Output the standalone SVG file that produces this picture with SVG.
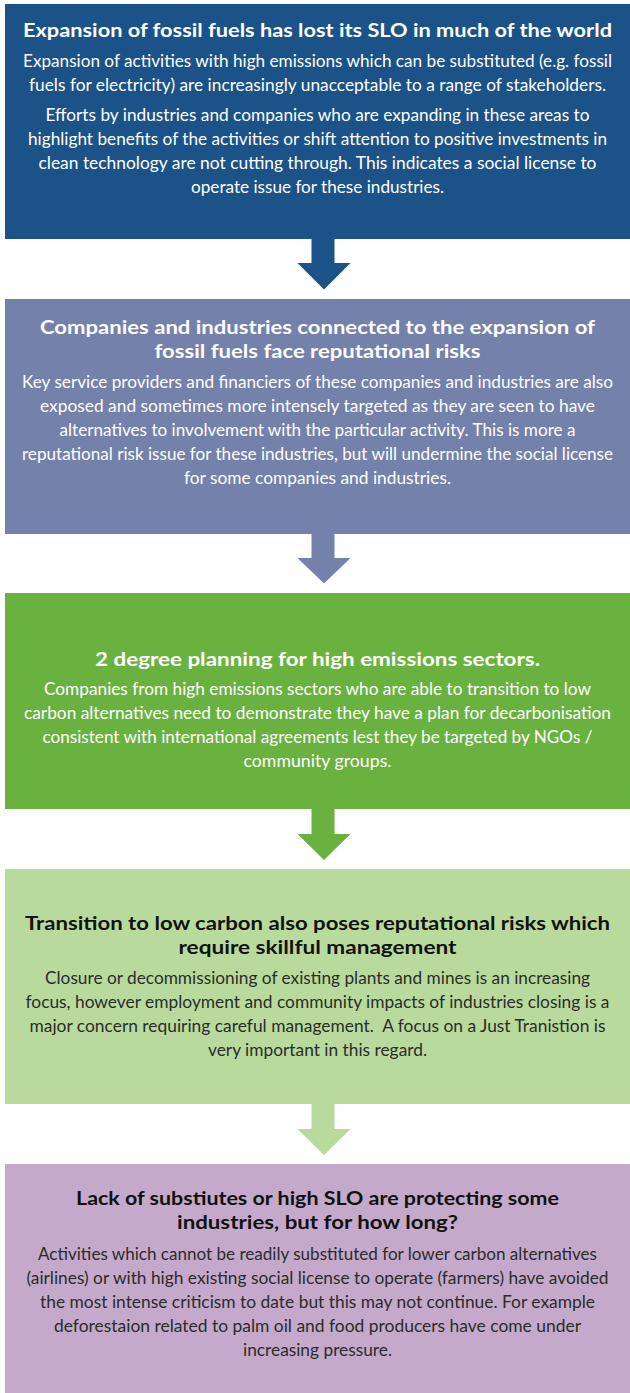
<svg xmlns="http://www.w3.org/2000/svg" width="630" height="1393" viewBox="0 0 630 1393">
<style>
.t{font-family:"Lato","Open Sans",sans-serif;font-weight:700;font-size:18px;text-anchor:middle}
.b{font-family:"Liberation Sans Narrow","Lato","Liberation Sans",sans-serif;font-size:17px;text-anchor:middle}
.w{fill:#ffffff}
.k{fill:#111111}
.g{fill:#2b2b2b}
</style>
<rect width="630" height="1393" fill="#ffffff"/>
<g id="connectors">
<polygon fill="#1b5287" points="311.5,238 334.5,238 334.5,263 350.5,263 324,289.5 297.5,263 311.5,263"/>
<polygon fill="#7381ab" points="311.5,533 334.5,533 334.5,558 350.5,558 324,583.5 297.5,558 311.5,558"/>
<polygon fill="#6ab23f" points="311.5,808 334.5,808 334.5,834 350.5,834 324,860 297.5,834 311.5,834"/>
<polygon fill="#b8db9d" points="311.5,1103 334.5,1103 334.5,1129 350.5,1129 324,1155 297.5,1129 311.5,1129"/>
</g>
<g id="node1">
<rect x="5" y="4" width="625" height="235" fill="#1b5287"/>
<text class="t w" x="317.5" y="37" textLength="589" lengthAdjust="spacingAndGlyphs">Expansion of fossil fuels has lost its SLO in much of the world</text>
<text class="b w" x="317.5" y="67" textLength="589" lengthAdjust="spacingAndGlyphs">Expansion of activities with high emissions which can be substituted (e.g. fossil</text>
<text class="b w" x="317.5" y="91" textLength="577" lengthAdjust="spacingAndGlyphs">fuels for electricity) are increasingly unacceptable to a range of stakeholders.</text>
<text class="b w" x="317.5" y="121" textLength="544" lengthAdjust="spacingAndGlyphs">Efforts by industries and companies who are expanding in these areas to</text>
<text class="b w" x="317.5" y="145" textLength="579" lengthAdjust="spacingAndGlyphs">highlight benefits of the activities or shift attention to positive investments in</text>
<text class="b w" x="317.5" y="169" textLength="558" lengthAdjust="spacingAndGlyphs">clean technology are not cutting through. This indicates a social license to</text>
<text class="b w" x="317.5" y="193" textLength="253" lengthAdjust="spacingAndGlyphs">operate issue for these industries.</text>
</g>
<g id="node2">
<rect x="5" y="299" width="625" height="235" fill="#7381ab"/>
<text class="t w" x="317.5" y="334" textLength="555" lengthAdjust="spacingAndGlyphs">Companies and industries connected to the expansion of</text>
<text class="t w" x="317.5" y="358" textLength="326" lengthAdjust="spacingAndGlyphs">fossil fuels face reputational risks</text>
<text class="b w" x="317.5" y="388" textLength="591" lengthAdjust="spacingAndGlyphs">Key service providers and financiers of these companies and industries are also</text>
<text class="b w" x="317.5" y="412" textLength="555" lengthAdjust="spacingAndGlyphs">exposed and sometimes more intensely targeted as they are seen to have</text>
<text class="b w" x="317.5" y="436" textLength="516" lengthAdjust="spacingAndGlyphs">alternatives to involvement with the particular activity. This is more a</text>
<text class="b w" x="317.5" y="460" textLength="591" lengthAdjust="spacingAndGlyphs">reputational risk issue for these industries, but will undermine the social license</text>
<text class="b w" x="317.5" y="484" textLength="267" lengthAdjust="spacingAndGlyphs">for some companies and industries.</text>
</g>
<g id="node3">
<rect x="5" y="593" width="625" height="216" fill="#6ab23f"/>
<text class="t w" x="317.5" y="666" textLength="445" lengthAdjust="spacingAndGlyphs">2 degree planning for high emissions sectors.</text>
<text class="b w" x="317.5" y="695" textLength="547" lengthAdjust="spacingAndGlyphs">Companies from high emissions sectors who are able to transition to low</text>
<text class="b w" x="317.5" y="719" textLength="587" lengthAdjust="spacingAndGlyphs">carbon alternatives need to demonstrate they have a plan for decarbonisation</text>
<text class="b w" x="317.5" y="743" textLength="550" lengthAdjust="spacingAndGlyphs">consistent with international agreements lest they be targeted by NGOs /</text>
<text class="b w" x="317.5" y="767" textLength="148" lengthAdjust="spacingAndGlyphs">community groups.</text>
</g>
<g id="node4">
<rect x="5" y="869" width="625" height="235" fill="#b8db9d"/>
<text class="t k" x="317.5" y="930" textLength="585" lengthAdjust="spacingAndGlyphs">Transition to low carbon also poses reputational risks which</text>
<text class="t k" x="317.5" y="954" textLength="278" lengthAdjust="spacingAndGlyphs">require skillful management</text>
<text class="b g" x="317.5" y="984" textLength="545" lengthAdjust="spacingAndGlyphs">Closure or decommissioning of existing plants and mines is an increasing</text>
<text class="b g" x="317.5" y="1008" textLength="584" lengthAdjust="spacingAndGlyphs">focus, however employment and community impacts of industries closing is a</text>
<text class="b g" x="317.5" y="1032" textLength="576" lengthAdjust="spacingAndGlyphs" xml:space="preserve">major concern requiring careful management.  A focus on a Just Tranistion is</text>
<text class="b g" x="317.5" y="1056" textLength="219" lengthAdjust="spacingAndGlyphs">very important in this regard.</text>
</g>
<g id="node5">
<rect x="5" y="1164" width="625" height="229" fill="#c5a9cb"/>
<text class="t k" x="317.5" y="1205" textLength="483" lengthAdjust="spacingAndGlyphs">Lack of substiutes or high SLO are protecting some</text>
<text class="t k" x="317.5" y="1229" textLength="281" lengthAdjust="spacingAndGlyphs">industries, but for how long?</text>
<text class="b g" x="317.5" y="1260" textLength="559" lengthAdjust="spacingAndGlyphs">Activities which cannot be readily substituted for lower carbon alternatives</text>
<text class="b g" x="317.5" y="1284" textLength="582" lengthAdjust="spacingAndGlyphs">(airlines) or with high existing social license to operate (farmers) have avoided</text>
<text class="b g" x="317.5" y="1308" textLength="555" lengthAdjust="spacingAndGlyphs">the most intense criticism to date but this may not continue. For example</text>
<text class="b g" x="317.5" y="1332" textLength="527" lengthAdjust="spacingAndGlyphs">deforestaion related to palm oil and food producers have come under</text>
<text class="b g" x="317.5" y="1356" textLength="149" lengthAdjust="spacingAndGlyphs">increasing pressure.</text>
</g>
</svg>
